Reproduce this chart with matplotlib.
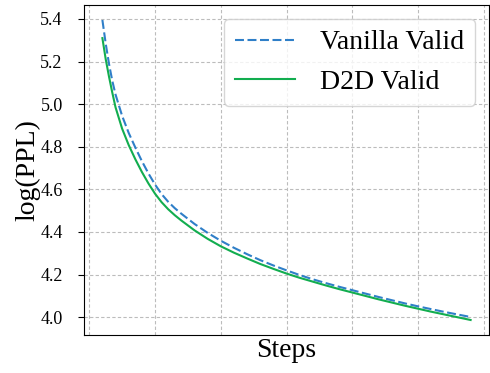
import matplotlib
matplotlib.use('Agg')
import matplotlib.pyplot as plt

plt.rcParams['font.family'] = ['Liberation Serif', 'DejaVu Serif']

# training progress (x) and validation log-perplexity
steps = [1, 1.25, 1.5, 1.75, 2, 2.5, 3, 3.5, 4, 4.5, 5, 5.5, 6, 6.5, 7, 8, 9, 10,
         11, 12, 13, 14, 15, 16, 17, 18, 19, 20, 21, 22, 23, 24, 25, 26, 27, 28, 29]
vanilla_valid = [5.395, 5.285, 5.19, 5.11, 5.045, 4.945, 4.865, 4.797, 4.733,
                 4.675, 4.623, 4.578, 4.542, 4.512, 4.486, 4.438, 4.396, 4.359,
                 4.326, 4.296, 4.268, 4.243, 4.22, 4.198, 4.178, 4.16, 4.143,
                 4.127, 4.111, 4.095, 4.08, 4.065, 4.051, 4.038, 4.025, 4.013, 4.001]
d2d_valid = [5.31, 5.212, 5.13, 5.055, 4.985, 4.885, 4.808, 4.742, 4.682,
             4.628, 4.58, 4.54, 4.507, 4.479, 4.454, 4.408, 4.368, 4.333,
             4.303, 4.276, 4.25, 4.227, 4.205, 4.185, 4.167, 4.149, 4.132,
             4.116, 4.1, 4.084, 4.069, 4.054, 4.04, 4.026, 4.013, 4.0, 3.987]
xtick_pos = [0, 5, 10, 15, 20, 25, 30]
ytick_pos = [4.0, 4.2, 4.4, 4.6, 4.8, 5.0, 5.2, 5.4]

fig = plt.figure(figsize=(4.9, 3.73), dpi=100)
ax = fig.add_axes([0.1714, 0.1019, 0.8266, 0.8847])

ax.plot(steps, vanilla_valid, linestyle=(0, (4.3, 1.7)), color='#2f7fc8', linewidth=1.5,
        label='Vanilla Valid')
ax.plot(steps, d2d_valid, linestyle='-', color='#12ad4f', linewidth=1.5,
        label='D2D Valid')

ax.set_xticks(xtick_pos)
ax.set_yticks(ytick_pos)
ax.tick_params(axis='x', length=0, labelbottom=False)
ax.tick_params(axis='y', labelsize=13, length=4.3, pad=11)
ax.grid(True, linestyle=(0, (3, 2)), color='#bcbcbc', linewidth=0.8)

ax.set_xlabel('Steps', fontsize=20, labelpad=2)
ax.set_ylabel('log(PPL)', fontsize=20, labelpad=0)

ax.legend(loc='upper right', fontsize=20, handlelength=2.16, handletextpad=0.9)

fig.savefig('out.png', dpi=100)
